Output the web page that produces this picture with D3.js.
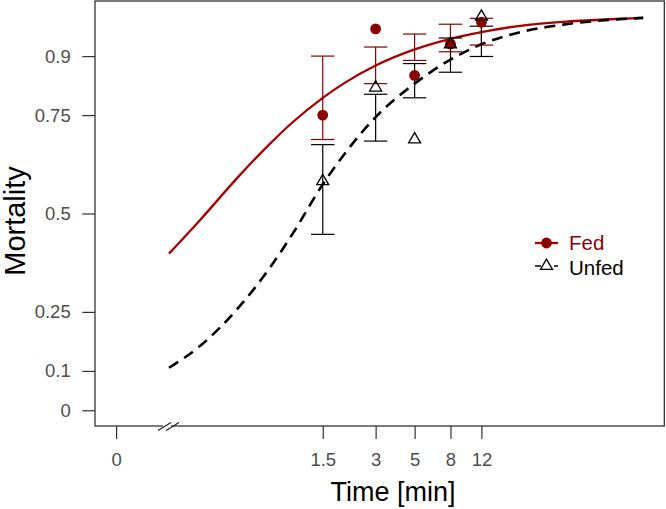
<!DOCTYPE html>
<html>
<head>
<meta charset="utf-8">
<script src="https://cdn.jsdelivr.net/npm/d3@7"></script>
<style>
  html, body { margin: 0; padding: 0; background: #fff; }
  svg { display: block; }
  text { font-family: "Liberation Sans", Arial, Helvetica, sans-serif; }
</style>
</head>
<body>
<svg id="chart" width="666" height="509"></svg>
<script>
// ---- data ----
const obsTime = [1.5, 3, 5, 8, 12];
const fedMort = [0.750, 0.969, 0.851, 0.931, 0.986];
const fedLower = [0.688, 0.830, 0.889, 0.911, 0.928];
const fedUpper = [0.900, 0.923, 0.956, 0.981, 0.996];
const unfedMort = [0.582, 0.820, 0.688, 0.930, 1.000];
const unfedLower = [0.447, 0.684, 0.794, 0.859, 0.899];
const unfedUpper = [0.675, 0.803, 0.881, 0.946, 0.976];

const curveTime = [0.2, 0.3, 0.5, 0.75, 1, 1.5, 2, 3, 5, 8, 12, 20, 35, 60, 100];
const fedCurve = [0.398, 0.483, 0.595, 0.677, 0.730, 0.794, 0.832, 0.876, 0.917, 0.944, 0.961, 0.977, 0.987, 0.993, 0.997];
const unfedCurve = [0.108, 0.163, 0.262, 0.362, 0.445, 0.574, 0.652, 0.745, 0.830, 0.891, 0.930, 0.961, 0.980, 0.991, 0.997];

const xTickValues = [0.1, 1.5, 3, 5, 8, 12];
const xTickLabels = ["0", "1.5", "3", "5", "8", "12"];
const yTickValues = [0, 0.1, 0.25, 0.5, 0.75, 0.9];
const yTickLabels = ["0", "0.1", "0.25", "0.5", "0.75", "0.9"];
const seriesNames = ["Fed", "Unfed"];
const breakAt = 0.2;

// ---- layout ----
const L = 95, R = 664.3, T = 1, B = 426;
const fedColor = "#8b0000", fedLine = "#a80000", unfedColor = "#000";

const svg = d3.select("#chart");
const x = d3.scaleLog().domain([Math.pow(10, -1.12), Math.pow(10, 2.12)]).range([L, R]);
const y = d3.scaleLinear().domain([-0.04, 1.04]).range([B, T]);

// axes
const xAxis = d3.axisBottom(x).tickValues(xTickValues)
  .tickFormat((d, i) => xTickLabels[i]).tickSize(13).tickPadding(14).tickSizeOuter(0);
const gx = svg.append("g").attr("transform", `translate(0,${B})`).call(xAxis);
gx.select(".domain").remove();
gx.selectAll(".tick line").attr("stroke", "#333").attr("stroke-width", 1.2);
gx.selectAll(".tick text").attr("fill", "#4d4d4d").style("font-size", "18.5px")
  .style("font-family", "'Liberation Sans', Arial, sans-serif");

const yAxis = d3.axisLeft(y).tickValues(yTickValues)
  .tickFormat((d, i) => yTickLabels[i]).tickSize(12.7).tickPadding(11.6).tickSizeOuter(0);
const gy = svg.append("g").attr("transform", `translate(${L},0)`).call(yAxis);
gy.select(".domain").remove();
gy.selectAll(".tick line").attr("stroke", "#333").attr("stroke-width", 1.2);
gy.selectAll(".tick text").attr("fill", "#4d4d4d").style("font-size", "18.5px")
  .style("font-family", "'Liberation Sans', Arial, sans-serif");

// box
svg.append("rect").attr("x", L).attr("y", T).attr("width", R - L).attr("height", B - T)
  .attr("fill", "none").attr("stroke", "#222").attr("stroke-width", 1.2);

// axis break
const bx = x(breakAt);
svg.append("rect").attr("x", bx - 6).attr("y", B - 2).attr("width", 8).attr("height", 4).attr("fill", "#fff");
[[-11, 2], [-3, 10]].forEach(([a, b]) => {
  svg.append("line").attr("x1", bx + a).attr("y1", B + 4.5).attr("x2", bx + b).attr("y2", B - 3.5)
    .attr("stroke", "#222").attr("stroke-width", 1.2);
});

// axis titles
svg.append("text").attr("x", 393).attr("y", 501).attr("text-anchor", "middle")
  .style("font-size", "27px").attr("fill", "#000").text("Time [min]");
svg.append("text").attr("transform", "translate(25,221) rotate(-90)").attr("text-anchor", "middle")
  .style("font-size", "29px").attr("fill", "#000").text("Mortality");

// curves
const line = d3.line().x(d => x(d[0])).y(d => y(d[1])).curve(d3.curveMonotoneX);
svg.append("path").datum(curveTime.map((t, i) => [t, fedCurve[i]]))
  .attr("d", line).attr("fill", "none").attr("stroke", fedLine).attr("stroke-width", 2.3);
svg.append("path").datum(curveTime.map((t, i) => [t, unfedCurve[i]]))
  .attr("d", line).attr("fill", "none").attr("stroke", unfedColor).attr("stroke-width", 2.6)
  .attr("stroke-dasharray", "11,7");

// error bars
function errorBars(lower, upper, color) {
  const g = svg.append("g").attr("stroke", color).attr("stroke-width", 1.2).attr("fill", "none");
  obsTime.forEach((t, i) => {
    const cx = x(t);
    g.append("line").attr("x1", cx).attr("x2", cx).attr("y1", y(lower[i])).attr("y2", y(upper[i]));
    g.append("line").attr("x1", cx - 11.7).attr("x2", cx + 11.7).attr("y1", y(lower[i])).attr("y2", y(lower[i]));
    g.append("line").attr("x1", cx - 11.7).attr("x2", cx + 11.7).attr("y1", y(upper[i])).attr("y2", y(upper[i]));
  });
}
errorBars(fedLower, fedUpper, fedColor);
errorBars(unfedLower, unfedUpper, unfedColor);

// points
const tri = d3.symbol().type(d3.symbolTriangle).size(62);
svg.append("g").selectAll("circle").data(obsTime).join("circle")
  .attr("cx", d => x(d)).attr("cy", (d, i) => y(fedMort[i])).attr("r", 5.4).attr("fill", fedColor);
svg.append("g").selectAll("path").data(obsTime).join("path")
  .attr("d", tri).attr("transform", (d, i) => `translate(${x(d)},${y(unfedMort[i])})`)
  .attr("fill", "none").attr("stroke", "#000").attr("stroke-width", 1.3);

// legend
const lg = svg.append("g");
const lx0 = 535, lx1 = 558, lmid = 546.5;
const rows = [243, 266];
lg.append("line").attr("x1", lx0).attr("x2", lx1).attr("y1", rows[0]).attr("y2", rows[0])
  .attr("stroke", fedLine).attr("stroke-width", 2.3);
lg.append("circle").attr("cx", lmid).attr("cy", rows[0]).attr("r", 5.4).attr("fill", fedColor);
lg.append("line").attr("x1", lx0).attr("x2", lx1).attr("y1", rows[1]).attr("y2", rows[1])
  .attr("stroke", "#000").attr("stroke-width", 1.5).attr("stroke-dasharray", "6,13");
lg.append("path").attr("d", tri).attr("transform", `translate(${lmid},${rows[1]})`)
  .attr("fill", "#fff").attr("stroke", "#000").attr("stroke-width", 1.3);
lg.append("text").attr("x", 569).attr("y", 249.5).style("font-size", "20.5px").attr("fill", fedColor).text(seriesNames[0]);
lg.append("text").attr("x", 569).attr("y", 275).style("font-size", "20.5px").attr("fill", "#000").text(seriesNames[1]);
</script>
</body>
</html>
